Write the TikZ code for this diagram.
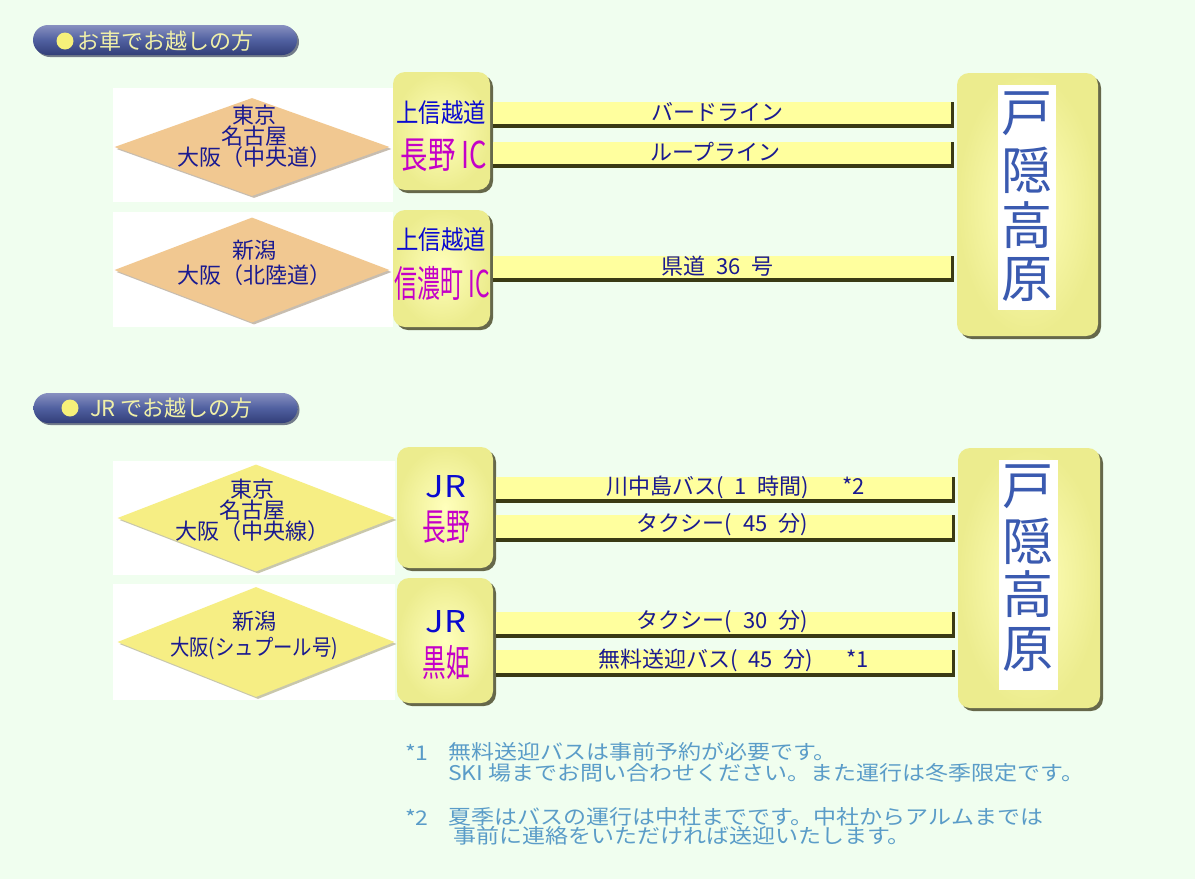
\documentclass[tikz,border=0pt]{standalone}
\usepackage{fontspec}
\usepackage{graphicx}
\setmainfont{Noto Sans CJK JP}
\usetikzlibrary{shapes.geometric,shadows,calc}
\definecolor{bg}{HTML}{F0FEEF}
\definecolor{tan}{HTML}{F1C891}
\definecolor{dyel}{HTML}{F6EE84}
\definecolor{boxin}{HTML}{FFFFBC}
\definecolor{boxout}{HTML}{ECEC8E}
\definecolor{boxsh}{HTML}{4E4E2E}
\definecolor{barfill}{HTML}{FFFF9E}
\definecolor{bardark}{HTML}{3A3A14}
\definecolor{navy}{HTML}{1A1A90}
\definecolor{icblue}{HTML}{0A0AD0}
\definecolor{icmag}{HTML}{C400C8}
\definecolor{togblue}{HTML}{3A5AB0}
\definecolor{notec}{HTML}{5A9CC8}
\definecolor{pilltop}{HTML}{8890C0}
\definecolor{pillmid}{HTML}{5060A0}
\definecolor{pillbot}{HTML}{323E78}
\definecolor{pilltext}{HTML}{F0F0A8}
\definecolor{dotc}{HTML}{F6F07A}
\newcommand\fs[1]{\fontsize{#1}{#1}\selectfont}
\newcommand\fsb[2]{\fontsize{#1}{#2}\selectfont}
% #1 from node, #2 to node, #3 name, #4 top y, #5 bottom y, #6 label, #7 label xshift
\newcommand\roadbar[7]{%
  \coordinate (#3-xa) at ([xshift=3pt]#1.east);
  \coordinate (#3-xb) at ([xshift=-3pt]#2.west);
  \coordinate (#3-xc) at ([xshift=-6pt]#2.west);
  \coordinate (#3-t) at (0,#4);
  \coordinate (#3-b) at (0,#5);
  \coordinate (#3-d) at (0,{#5-4});
  \coordinate (#3-l) at (0,{#4+10});
  \fill[barfill] (#3-xa |- #3-t) rectangle (#3-xb |- #3-b);
  \fill[bardark] (#3-xa |- #3-d) rectangle (#3-xb |- #3-b);
  \fill[bardark] (#3-xc |- #3-t) rectangle (#3-xb |- #3-b);
  \path (#3-xa |- #3-l) -- (#3-xb |- #3-l) node[midway,barlabel,xshift=#7] (#3) {#6};
}
\begin{document}
\begin{tikzpicture}[x=1pt,y=-1pt,
  ybox/.style={rounded corners=12pt, inner color=boxin, outer color=boxout,
    drop shadow={shadow xshift=3pt, shadow yshift=-3pt, fill=boxsh, opacity=0.85}},
  dia/.style={diamond, inner sep=0pt, fill=#1,
    drop shadow={shadow xshift=2pt, shadow yshift=-2pt, fill=#1!55!black, opacity=0.45}},
  diatext/.style={inner sep=0pt, align=center, text=navy, font=\fsb{22}{21}},
  barlabel/.style={inner sep=0pt, text=navy, font=\fs{22}},
  pill/.style={rounded corners=15pt, top color=pilltop, bottom color=pillbot, middle color=pillmid,
    minimum width=264pt, minimum height=30pt,
    drop shadow={shadow xshift=2pt, shadow yshift=-2pt, fill=pillbot!60!black, opacity=0.6}},
  htext/.style={inner sep=0pt, anchor=west, text=pilltext, font=\fs{22}},
  dot/.style={circle, fill=dotc, minimum size=17pt, inner sep=0pt},
  ictext/.style={inner sep=0pt, text=icblue},
  icname/.style={inner sep=0pt, text=icmag},
  togtext/.style={inner sep=0pt, text=togblue, font=\fs{51}},
  note/.style={inner sep=0pt, anchor=west, text=notec, font=\fs{23}}
]
\useasboundingbox (0,0) rectangle (1195,879);
\fill[bg] (0,0) rectangle (1195,879);

% ---------- headers ----------
\node[pill] (h1) at (165,40) {};
\node[dot] (h1d) at (65,41) {};
\node[htext] (h1t) at (77,41) {お車でお越しの方};
\node[pill] (h2) at (165.5,408) {};
\node[dot] (h2d) at (70,408) {};
\node[htext] (h2t) at (90,408) {JR でお越しの方};

% ---------- section 1 ----------
\fill[white] (113,88) rectangle (393,202);
\fill[white] (113,212) rectangle (393,327);
\node[dia=tan, minimum width=275pt, minimum height=98pt] (d1) at (252,147) {};
\node[dia=tan, minimum width=275pt, minimum height=105pt] (d2) at (252,270) {};
\node[diatext] (d1t) at (254,136) {東京\\名古屋\\大阪（中央道）};
\node[diatext, font=\fsb{22}{25}] (d2t) at (254,263) {新潟\\大阪（北陸道）};

\node[ybox, minimum width=97pt, minimum height=118pt] (ic1) at (441.5,131) {};
\node[ybox, minimum width=97pt, minimum height=117pt] (ic2) at (441.5,268.5) {};
\node[ybox, minimum width=141pt, minimum height=263pt] (tg1) at (1027.5,204.5) {};
\fill[white] (998,85) rectangle (1056,310);

\node[ictext, font=\fs{26}] (ic1a) at (441,113) {\scalebox{0.86}[1]{上信越道}};
\node[icname, font=\fs{37}] (ic1b) at (444,155) {\scalebox{0.74}[1]{長野 IC}};
\node[ictext, font=\fs{26}] (ic2a) at (441,240) {\scalebox{0.86}[1]{上信越道}};
\node[icname, font=\fs{37}] (ic2b) at (442,283) {\scalebox{0.62}[1]{信濃町 IC}};

\node[togtext] (tg1a) at (1027,114) {戸};
\node[togtext] (tg1b) at (1027,170) {隠};
\node[togtext] (tg1c) at (1027,225) {高};
\node[togtext] (tg1d) at (1027,280) {原};

\roadbar{ic1}{tg1}{a1}{102}{128}{バードライン}{-6pt}
\roadbar{ic1}{tg1}{a2}{142}{168}{ループライン}{-8pt}
\roadbar{ic2}{tg1}{a3}{256}{282}{県道\enspace 36\enspace 号}{-6pt}

% ---------- section 2 ----------
\fill[white] (113,461) rectangle (395,575);
\fill[white] (113,584) rectangle (395,700);
\node[dia=dyel, minimum width=277pt, minimum height=107pt] (d3) at (256,518) {};
\node[dia=dyel, minimum width=277pt, minimum height=110pt] (d4) at (256,642) {};
\node[diatext] (d3t) at (252,510) {東京\\名古屋\\大阪（中央線）};
\node[diatext, font=\fsb{22}{26}] (d4t) at (254,635) {新潟\\\scalebox{0.88}[1]{大阪(シュプール号)}};

\node[ybox, minimum width=96pt, minimum height=121pt] (jr1) at (445,507.5) {};
\node[ybox, minimum width=96pt, minimum height=125pt] (jr2) at (445,640.5) {};
\node[ybox, minimum width=142pt, minimum height=260pt] (tg2) at (1029,578) {};
\fill[white] (999,460) rectangle (1058,690);

\node[ictext, font=\fs{30}] (jr1a) at (446,487) {\scalebox{1.15}[1]{JR}};
\node[icname, font=\fs{37}] (jr1b) at (446,527) {\scalebox{0.64}[1]{長野}};
\node[ictext, font=\fs{30}] (jr2a) at (446,622) {\scalebox{1.15}[1]{JR}};
\node[icname, font=\fs{37}] (jr2b) at (446,662) {\scalebox{0.64}[1]{黒姫}};

\node[togtext] (tg2a) at (1028,487) {戸};
\node[togtext] (tg2b) at (1028,541) {隠};
\node[togtext] (tg2c) at (1028,594) {高};
\node[togtext] (tg2d) at (1028,650) {原};

\roadbar{jr1}{tg2}{b1}{477}{503}{川中島バス(\enspace 1\enspace 時間)\quad\enspace *2}{10pt}
\roadbar{jr1}{tg2}{b2}{515}{542}{タクシー(\enspace 45\enspace 分)}{-3pt}
\roadbar{jr2}{tg2}{b3}{612}{638}{タクシー(\enspace 30\enspace 分)}{-3pt}
\roadbar{jr2}{tg2}{b4}{650}{677}{無料送迎バス(\enspace 45\enspace 分)\quad\enspace *1}{8pt}

% ---------- notes ----------
\node[note] (n1) at (405,752) {\scalebox{1}[0.88]{*1}};
\node[note] (n1a) at (448,752) {\scalebox{1}[0.88]{無料送迎バスは事前予約が必要です。}};
\node[note] (n1b) at (448,773) {\scalebox{1}[0.88]{SKI 場までお問い合わせください。また運行は冬季限定です。}};
\node[note] (n2) at (405,817) {\scalebox{1}[0.88]{*2}};
\node[note] (n2a) at (448,817) {\scalebox{1}[0.88]{夏季はバスの運行は中社までです。中社からアルムまでは}};
\node[note] (n2b) at (453,836) {\scalebox{1}[0.88]{事前に連絡をいただければ送迎いたします。}};
\end{tikzpicture}
\end{document}
